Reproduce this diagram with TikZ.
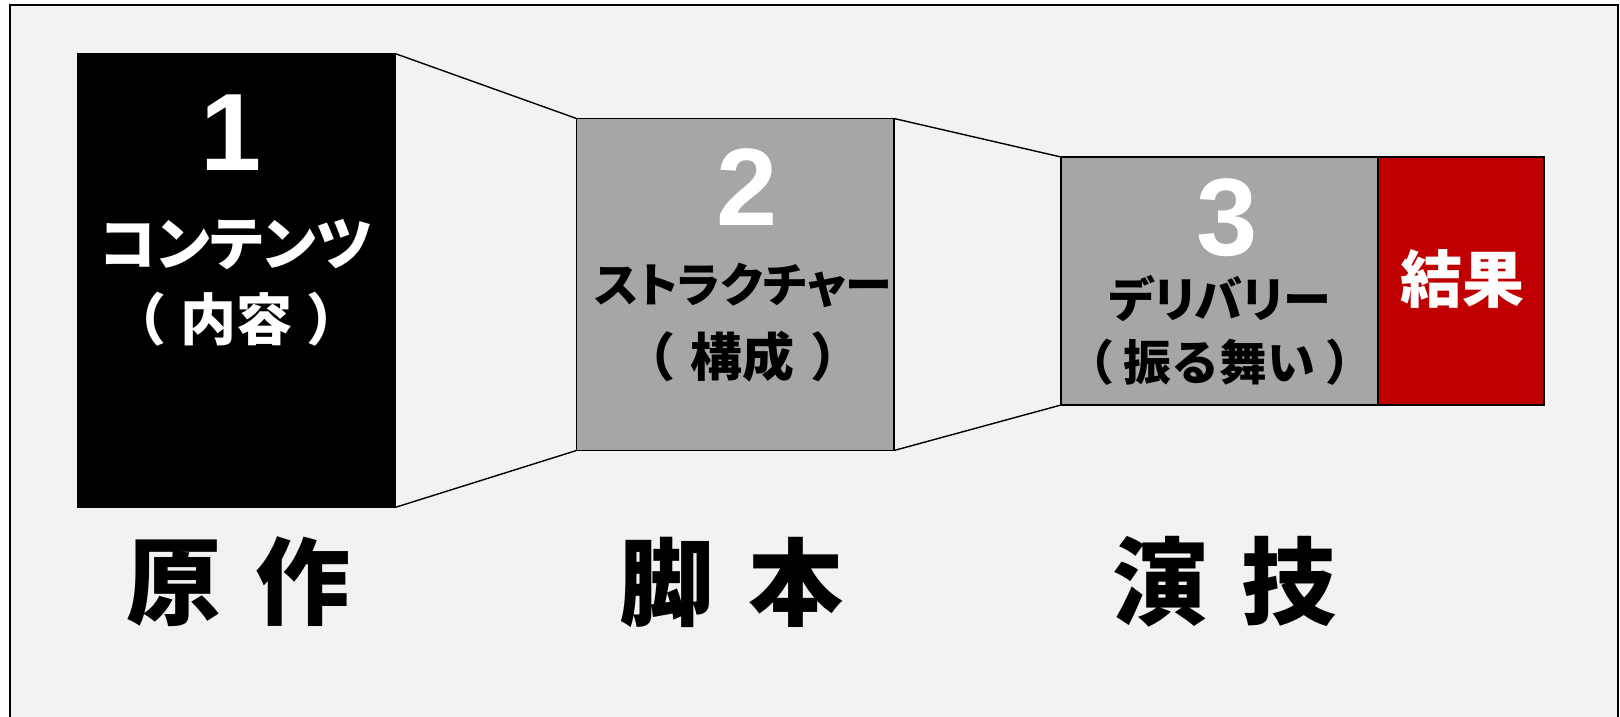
\documentclass[tikz,border=0pt]{standalone}
\usepackage{fontspec}
\newfontfamily\jp{Noto Sans CJK JP}
\newfontfamily\jpp[RawFeature=+palt]{Noto Sans CJK JP}
\newfontfamily\arialf{Liberation Sans}
\definecolor{bgray}{HTML}{F2F2F2}
\definecolor{boxgray}{HTML}{A6A6A6}
\definecolor{resred}{HTML}{C00000}
\begin{document}
\begin{tikzpicture}[x=1pt,y=-1pt,
  stage/.style={draw=black,line width=1.6pt,anchor=north west,inner sep=0pt,outer sep=0pt},
  link/.style={draw=black,line width=1.4pt},
  num/.style={inner sep=0pt,font=\arialf\bfseries\fontsize{110}{120}\selectfont},
  kana/.style={inner sep=0pt,font=\jpp\bfseries\fontsize{#1}{#1}\selectfont},
  paren/.style={inner sep=0pt,font=\jp\bfseries\fontsize{#1}{#1}\selectfont},
  bottomlabel/.style={inner sep=0pt,font=\jp\bfseries\fontsize{95}{110}\selectfont}]
\useasboundingbox (0,0) rectangle (1620,717);
\fill[white] (0,0) rectangle (1620,717);
\draw[fill=bgray,line width=1.4pt] (10,5) rectangle (1618,730);
% stage boxes
\node[stage,fill=black,minimum width=318,minimum height=453.6] (b1) at (77.5,53.7) {};
\node[stage,fill=boxgray,minimum width=317.5,minimum height=332] (b2) at (576.5,118.5) {};
\node[stage,fill=boxgray,minimum width=317,minimum height=248] (b3) at (1061,157) {};
\node[stage,fill=resred,minimum width=166,minimum height=248] (b4) at (1378,157) {};
% connectors
\draw[link] (b1.north east) -- (b2.north west);
\draw[link] (b1.south east) -- (b2.south west);
\draw[link] (b2.north east) -- (b3.north west);
\draw[link] (b2.south east) -- (b3.south west);
% texts box 1
\node[num,white] (n1) at (231,132.5) {1};
\node[kana=58,white] (t1a) at (236,244.5) {コンテンツ};
\node[paren=56,white] (t1b) at (236.5,319) {（\hspace{14pt}内容\hspace{14pt}）};
% box 2
\node[num,white] (n2) at (747,187.5) {2};
\node[kana=47,black] (t2a) at (743,285) {ストラクチャー};
\node[paren=52,black] (t2b) at (743,357) {（\hspace{16pt}構成\hspace{16pt}）};
% box 3
\node[num,white] (n3) at (1227,217.5) {3};
\node[kana=48,black] (t3a) at (1219.5,298.5) {デリバリー};
\node[paren=48,black] (t3b) at (1220,362.5) {（\hspace{10pt}振る舞い\hspace{10pt}）};
% result
\node[kana=62,white] (t4) at (1462,278.5) {結果};
% bottom labels
\node[bottomlabel] (l1) at (238.5,582) {原\hspace{34pt}作};
\node[bottomlabel] (l2) at (731.5,582) {脚\hspace{34pt}本};
\node[bottomlabel] (l3) at (1224.5,582) {演\hspace{34pt}技};
\end{tikzpicture}
\end{document}
